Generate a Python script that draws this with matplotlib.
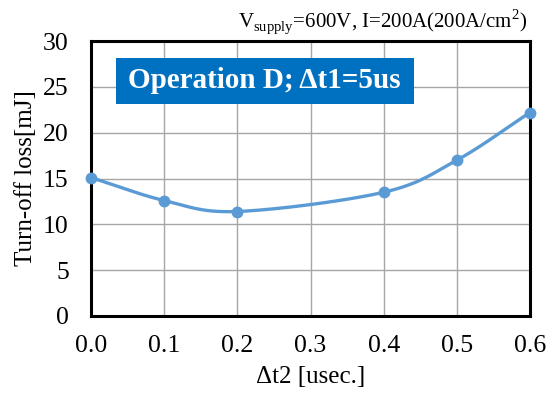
import numpy as np
import matplotlib
matplotlib.use("Agg")
import matplotlib.pyplot as plt
from matplotlib.patches import Rectangle

plt.rcParams['font.family'] = ['Liberation Serif', 'DejaVu Serif']
plt.rcParams['mathtext.fontset'] = 'custom'
plt.rcParams['mathtext.rm'] = 'Liberation Serif'

dt2 = [0.0, 0.1, 0.2, 0.4, 0.5, 0.6]
loss = [15.1, 12.6, 11.4, 13.5, 17.0, 22.2]
xticks = [0.0, 0.1, 0.2, 0.3, 0.4, 0.5, 0.6]
yticks = [0, 5, 10, 15, 20, 25, 30]

def catmull_rom(x, y, n=30):
    x = np.asarray(x, float); y = np.asarray(y, float)
    px = np.concatenate([[2*x[0]-x[1]], x, [2*x[-1]-x[-2]]])
    py = np.concatenate([[2*y[0]-y[1]], y, [2*y[-1]-y[-2]]])
    xs, ys = [], []
    for i in range(1, len(px)-2):
        t = np.linspace(0, 1, n)
        for p, out in ((px, xs), (py, ys)):
            p0, p1, p2, p3 = p[i-1], p[i], p[i+1], p[i+2]
            out.append(0.5*((2*p1) + (-p0+p2)*t + (2*p0-5*p1+4*p2-p3)*t**2 + (-p0+3*p1-3*p2+p3)*t**3))
    return np.concatenate(xs), np.concatenate(ys)

W, H = 550, 397
fig = plt.figure(figsize=(5.5, 3.97), dpi=100)
ax = fig.add_axes([91/W, 1-316/H, (530-91)/W, (316-41)/H])

sx, sy = catmull_rom(dt2, loss)
ax.plot(sx, sy, color='#5B9BD5', lw=2.4, zorder=3, clip_on=False)
ax.plot(dt2, loss, 'o', color='#5B9BD5', ms=7.5, zorder=4, clip_on=False)

ax.set_xlim(0, 0.6)
ax.set_ylim(0, 30)
ax.set_xticks(xticks)
ax.set_xticklabels([f"{v:.1f}" for v in xticks])
ax.set_yticks(yticks)
ax.grid(True, color='#A6A6A6', lw=1)
ax.set_axisbelow(True)
for s in ax.spines.values():
    s.set_color('black'); s.set_linewidth(2.2)
ax.tick_params(axis='x', length=0, labelsize=18.5, pad=14)
ax.tick_params(axis='y', length=0, labelsize=18.5, pad=16)
ax.set_xlabel('Δt2 [usec.]', fontsize=18, labelpad=6)
ax.set_ylabel('Turn-off loss[mJ]', fontsize=18, labelpad=4)

fig.text(527/W, 1-22/H, r'V$_{\mathrm{supply}}$=600V, I=200A(200A/cm$^{2}$)', fontsize=15,
         ha='right', va='center')
fig.patches.append(Rectangle((116/W, 1-104/H), (414-116)/W, (104-58)/H,
                             transform=fig.transFigure, fc='#0070C0', ec='none', zorder=5))
fig.text(264/W, 1-81/H, 'Operation D; Δt1=5us', fontsize=21, fontweight='bold', color='white',
         ha='center', va='center', zorder=6)

fig.savefig('out.png', dpi=100)
